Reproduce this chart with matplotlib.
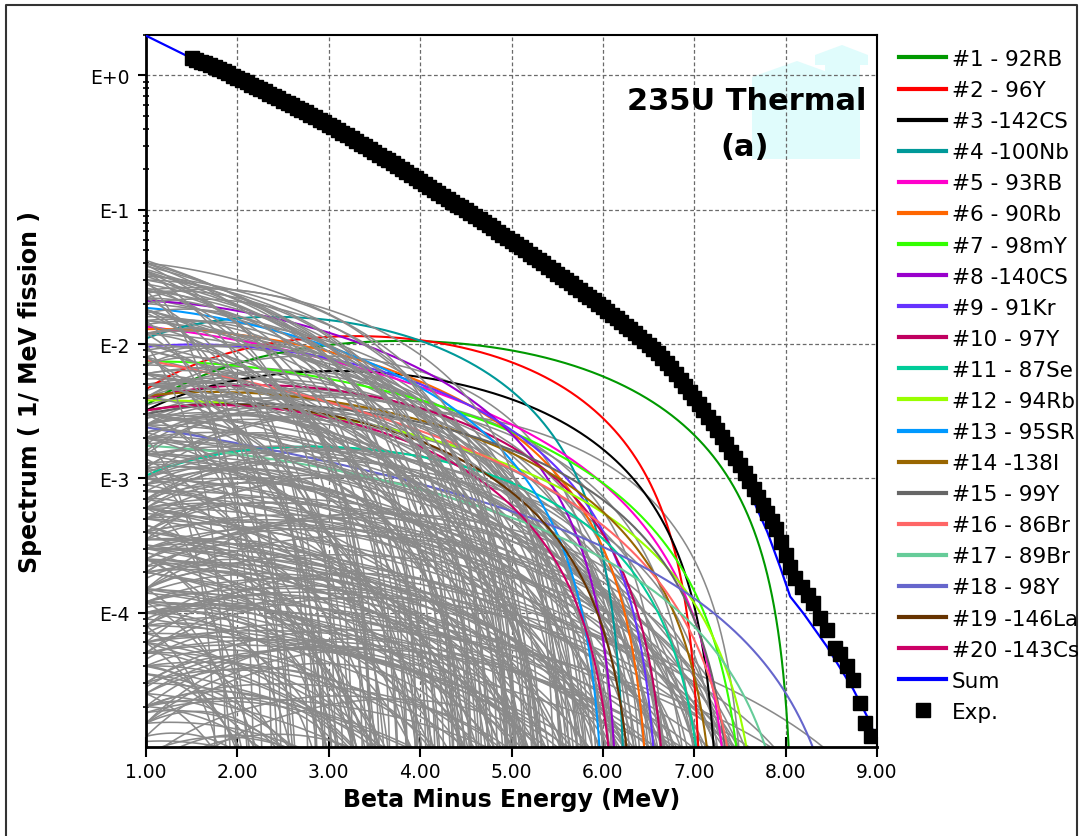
import numpy as np
import matplotlib

matplotlib.use("Agg")
import matplotlib.pyplot as plt
from matplotlib.lines import Line2D
from matplotlib.patches import Polygon
from matplotlib.ticker import LogLocator, NullFormatter, FixedLocator, FixedFormatter

# -------------------------------------------------------------
# Top 20 contributors: endpoint (MeV), level at 1 MeV, shape exp
# -------------------------------------------------------------
nuclide_labels = [
    "#1 - 92RB", "#2 - 96Y", "#3 -142CS", "#4 -100Nb", "#5 - 93RB",
    "#6 - 90Rb", "#7 - 98mY", "#8 -140CS", "#9 - 91Kr", "#10 - 97Y",
    "#11 - 87Se", "#12 - 94Rb", "#13 - 95SR", "#14 -138I", "#15 - 99Y",
    "#16 - 86Br", "#17 - 89Br", "#18 - 98Y", "#19 -146La", "#20 -143Cs",
]
nuclide_colors = [
    "#009900", "#ff0000", "#000000", "#009999", "#ff00cc",
    "#ff6600", "#33ff00", "#9900cc", "#6633ff", "#c00060",
    "#00cc99", "#99ff00", "#0099ff", "#996600", "#666666",
    "#ff6666", "#66cc99", "#6666cc", "#663300", "#cc0066",
]
nuclide_e0 = [8.10, 7.10, 7.30, 6.27, 7.45, 6.55, 7.62, 6.20, 6.65, 6.75,
              7.20, 7.80, 6.05, 7.30, 7.50, 7.60, 8.20, 8.80, 6.40, 6.20]
nuclide_y1 = [3.5e-3, 4.6e-3, 3.2e-3, 1.1e-2, 1.35e-2, 1.29e-2, 7.4e-3, 2.1e-2, 9.5e-3, 3.9e-3,
              1.05e-3, 3.8e-3, 1.86e-2, 4.1e-3, 3.0e-3, 7.6e-3, 1.75e-3, 2.4e-3, 3.2e-3, 3.2e-3]
nuclide_k = [2.0, 2.0, 1.7, 1.5, 0.2, 0.6, 0.5, 0.5, 0.8, 1.2,
             1.5, 0.5, 0.4, 0.8, 1.0, 0.0, 0.3, 0.0, 1.0, 1.0]

# -----------------------------------------------
# All the other fission products (drawn in gray)
# -----------------------------------------------
other_e0 = [
    1.8, 2.0, 2.1, 2.2, 2.3, 2.4, 2.5, 2.6, 2.7, 2.8, 2.9, 3.0, 3.0, 3.1, 3.2, 1.9, 2.2, 2.5, 2.8, 3.2,
    3.3, 3.4, 3.4, 3.5, 3.5, 3.6, 3.6, 3.7, 3.7, 3.8, 3.8, 3.9, 3.9, 4.0, 4.0, 4.0, 4.1, 4.1,
    4.2, 4.2, 4.3, 4.3, 4.4, 4.4, 4.5, 4.5, 3.3, 3.6, 3.9, 4.1, 4.4, 3.5, 4.2, 3.8, 4.5,
    4.6, 4.6, 4.7, 4.7, 4.8, 4.8, 4.9, 4.9, 5.0, 5.0, 5.0, 5.1, 5.1, 5.2, 5.2, 5.2, 5.3, 5.3,
    5.4, 5.4, 5.5, 5.5, 5.5, 5.6, 5.6, 5.7, 5.7, 5.8, 5.8, 5.9, 5.9, 6.0, 6.0, 4.6, 4.8, 5.0,
    5.3, 5.6, 5.9, 4.7, 5.1, 5.4, 5.7, 6.0, 4.9, 5.2, 5.5, 5.8, 5.0, 5.3,
    6.1, 6.1, 6.2, 6.2, 6.3, 6.3, 6.4, 6.4, 6.5, 6.5, 6.6, 6.6, 6.7, 6.7, 6.8, 6.8, 6.9, 6.9,
    7.0, 7.0, 7.1, 7.1, 7.2, 7.2, 7.3, 7.3, 7.4, 7.4, 7.5, 7.5, 7.6, 7.6, 6.15, 6.35, 6.55, 6.75,
    6.95, 7.15, 7.35, 7.55, 6.25, 6.45, 6.65, 6.85, 7.05, 7.25, 7.45, 6.05, 6.6, 7.0,
    7.8, 7.9, 8.0, 8.1, 8.2, 8.3, 8.4, 8.5, 8.6, 8.7, 8.9, 7.7, 7.85, 8.05, 8.25, 10.0, 9.5, 9.8,
    4.8, 6.0, 5.2, 6.5, 4.2, 3.6, 5.7,
    3.4, 3.7, 3.9, 4.2, 4.4, 4.6, 4.8, 5.0, 5.2, 5.4, 3.1, 3.5, 4.0, 4.3, 4.7, 5.1, 5.6, 5.8, 6.0, 3.0,
    4.0, 4.3, 4.5, 4.7, 4.9, 5.1, 5.3, 5.5, 5.7, 5.9, 6.1, 6.3, 6.5, 6.7, 6.9, 7.1, 4.2, 4.6, 5.0, 5.4,
    5.8, 6.2, 6.6, 7.0, 4.8, 5.2, 5.6, 6.0, 6.4, 6.8,
    3.2, 3.5, 3.8, 4.1, 4.4, 4.7, 5.0, 5.3, 5.6, 5.9, 6.2, 6.5, 6.8, 7.1, 7.4, 3.3, 3.6, 3.9, 4.2, 4.5,
    4.8, 5.1, 5.4, 5.7, 6.0, 6.3, 6.6, 6.9, 7.2, 7.5, 2.6, 2.9, 3.1, 3.4, 3.7, 4.0, 4.3, 4.6, 4.9, 5.2,
    5.5, 5.8, 6.1, 6.4, 6.7, 7.0, 2.3, 2.7, 3.0, 3.3,
    2.3, 2.6, 2.9, 3.2, 3.5, 3.8, 2.4, 2.7, 3.0, 3.6, 2.0, 2.5,
    7.7, 7.9, 8.1, 8.3, 7.6, 8.0, 9.0, 9.2,
]
other_y1 = [
    2.0e-3, 6.0e-4, 8.0e-5, 1.5e-2, 2.5e-4, 4.0e-5, 3.0e-3, 1.2e-4, 7.0e-4, 2.0e-5,
    3.5e-2, 5.0e-5, 1.0e-3, 6.0e-3, 3.0e-4, 1.0e-2, 1.2e-3, 2.5e-5, 2.2e-2, 1.5e-5,
    2.8e-2, 8.0e-4, 6.0e-5, 4.0e-3, 1.5e-4, 1.8e-2, 2.0e-5, 3.0e-4, 1.0e-3, 3.5e-2,
    8.0e-5, 6.0e-3, 2.5e-4, 1.5e-3, 3.0e-5, 2.2e-2, 5.0e-4, 1.2e-4, 9.0e-3, 4.0e-5,
    2.5e-3, 7.0e-4, 3.0e-2, 1.8e-4, 5.0e-3, 5.0e-5, 2.5e-3, 4.5e-4, 1.5e-5, 1.2e-2,
    1.2e-3, 1.2e-2, 3.5e-4, 2.0e-3, 2.0e-4,
    3.8e-2, 9.0e-4, 2.0e-3, 6.0e-5, 1.5e-2, 3.0e-4, 4.0e-3, 2.5e-5, 2.5e-2, 1.0e-4,
    6.0e-4, 8.0e-3, 1.5e-3, 4.0e-2, 4.0e-4, 3.0e-5, 3.0e-3, 1.2e-2, 2.0e-4, 1.0e-3,
    2.5e-2, 5.0e-5, 5.0e-3, 7.0e-4, 2.0e-2, 1.5e-4, 2.5e-3, 9.0e-3, 4.0e-5, 3.5e-4,
    1.5e-2, 1.5e-3, 8.0e-5, 6.0e-3, 1.5e-5, 2.5e-3, 8.0e-5, 1.2e-3, 4.0e-3, 2.2e-2,
    4.5e-4, 1.8e-2, 6.0e-3, 2.5e-4, 1.0e-2, 1.8e-3, 2.5e-4, 2.0e-5, 3.5e-2, 5.0e-4,
    1.2e-2, 3.0e-4, 2.0e-3, 6.0e-5, 8.0e-3, 5.0e-4, 1.5e-2, 1.2e-4, 3.0e-3, 2.5e-5,
    1.0e-3, 6.0e-3, 2.0e-4, 4.0e-5, 4.0e-3, 7.0e-4, 1.5e-3, 9.0e-5, 5.0e-3, 3.0e-4,
    2.5e-3, 1.5e-4, 8.0e-4, 2.5e-3, 4.0e-4, 5.0e-5, 1.5e-3, 2.5e-4, 2.5e-3, 7.0e-5,
    6.0e-4, 1.2e-3, 4.0e-3, 2.5e-4, 9.0e-3, 1.8e-3, 6.0e-4, 1.0e-4, 2.0e-3, 3.5e-4,
    1.0e-3, 5.0e-3, 3.5e-4, 2.5e-3, 1.0e-3, 6.0e-3, 4.0e-4, 6.0e-4, 1.5e-5, 2.0e-5,
    1.5e-3, 4.0e-4, 8.0e-4, 2.0e-4, 1.0e-3, 3.0e-4, 6.0e-4, 1.5e-4, 4.0e-4, 2.5e-4,
    1.5e-4, 3.0e-3, 6.0e-5, 2.0e-3, 5.0e-5, 3.2e-4, 2.0e-4, 1.2e-4,
    6.0e-6, 8.0e-6, 1.2e-5, 4.0e-6, 9.0e-6, 7.0e-6, 1.5e-5,
    3.2e-2, 2.6e-2, 4.0e-2, 3.3e-2, 2.4e-2, 3.0e-2, 4.2e-2, 2.0e-2, 2.8e-2, 3.6e-2,
    2.5e-2, 3.9e-2, 1.7e-2, 4.0e-2, 1.6e-2, 3.2e-2, 1.4e-2, 2.2e-2, 1.8e-2, 1.7e-2,
    4.5e-3, 8.0e-4, 1.0e-2, 3.5e-3, 1.3e-3, 5.5e-3, 2.0e-3, 9.0e-4, 4.0e-3, 1.2e-3,
    2.8e-3, 9.0e-4, 1.6e-3, 7.0e-4, 3.0e-3, 5.0e-4, 2.2e-3, 1.6e-3, 7.0e-3, 5.0e-3,
    6.5e-4, 5.0e-3, 2.2e-3, 1.3e-3, 9.0e-4, 2.8e-3, 3.5e-3, 1.0e-3, 7.0e-3, 1.1e-3,
    1.0e-4, 3.5e-5, 5.5e-4, 2.0e-5, 7.0e-5, 2.2e-4, 1.8e-5, 1.4e-4, 4.5e-5, 2.2e-4,
    3.0e-5, 1.2e-4, 4.0e-4, 3.0e-5, 1.0e-4, 4.0e-4, 1.2e-4, 3.5e-5, 6.0e-4, 1.1e-5,
    3.5e-4, 8.0e-5, 2.5e-5, 5.0e-4, 1.4e-4, 6.0e-5, 2.5e-4, 5.0e-5, 2.0e-4, 1.2e-4,
    3.5e-5, 2.5e-4, 1.2e-5, 7.0e-5, 1.8e-5, 2.8e-4, 4.0e-5, 1.0e-4, 6.0e-4, 6.0e-5,
    1.1e-4, 2.8e-5, 9.0e-5, 2.0e-5, 1.5e-4, 8.0e-5, 1.5e-4, 6.0e-5, 2.2e-3, 1.4e-3,
    8.0e-3, 1.2e-2, 5.0e-3, 1.0e-2, 7.0e-3, 1.4e-2, 2.5e-2, 3.0e-3, 8.0e-3, 3.0e-3,
    3.0e-2, 1.8e-2,
    6.0e-4, 1.5e-4, 5.0e-4, 1.2e-4, 2.0e-4, 3.0e-4, 3.0e-4, 1.0e-4,
]
other_k = [
    1, 2, 1, 0.5, 1.5, 2, 1, 0.5, 2, 2.5, 0, 1.5, 1, 0.5, 2, 0, 0.5, 1, 0.5, 2.5,
    0.3, 1.5, 2, 1, 2.5, 0.5, 1, 1, 2, 0, 1.5, 1.5, 0.5, 1, 2.5, 1, 2, 1,
    0.5, 2, 1.5, 0.5, 0.5, 2, 1, 1, 2, 0.3, 2.5, 1.5, 2.5, 1, 1, 0.5, 0.5,
    0.3, 2, 1, 0.5, 1, 1.5, 2, 2, 0.5, 1, 0.5, 1.5, 2.5, 0.5, 2, 1.5, 0.5, 1,
    1, 2, 1, 2.5, 0.3, 1.5, 0.5, 0.5, 2, 1, 1, 2.5, 0.3, 1, 2, 0.5, 1, 1.5,
    2, 0, 1.5, 1.5, 0, 0, 0.5, 0.5, 0.3, 1, 2, 2.5, 0, 1,
    0.5, 1.5, 1, 1, 0, 2, 0.3, 0.5, 1.5, 2, 0.5, 1, 1, 0, 0.3, 2, 1, 1.5,
    0, 0.5, 1.5, 2, 0.3, 1, 1, 2, 0.5, 1.5, 0, 0.5, 1, 2, 2, 0, 0, 2,
    0, 1, 0.3, 0.5, 0.5, 1, 1.5, 0.5, 1.5, 0, 2, 1, 2.5, 1,
    0, 1, 0.5, 0, 0, 0.5, 0, 0.3, 0, 0, 0, 0, 1, 0, 1, 0, 0, 0.3,
    2.5, 2.5, 3, 3, 2, 3, 3,
    0.5, 0.8, 0.2, 0.6, 1.2, 0.8, 0, 1.2, 0.3, 0, 1, 0, 1.5, 0.3, 0.8, 0.6, 1, 0.2, 0, 0.5,
    1.8, 2.2, 0.8, 1.5, 1, 0.8, 2, 1.5, 1.2, 0.8, 1.5, 1, 0.3, 1.8, 0.5, 1.2, 0.3, 2.5, 1.8, 0.5,
    2.2, 0.8, 1.2, 0.3, 0.3, 1.2, 2, 2.5, 0.5, 1.5,
    1.5, 1, 0.8, 2, 0.3, 2, 1.5, 0.5, 2, 1, 0.5, 1.5, 0.3, 2, 0.8, 0.3, 2, 0.5, 2.5, 1,
    1, 2.5, 0.5, 0.3, 1.5, 2.5, 0.5, 1, 2, 0, 1.5, 0.5, 2, 2.5, 1.5, 0.5, 1, 1.5, 2, 0,
    1, 2, 0.3, 1.5, 2.5, 0.5, 1, 0, 2, 0,
    1, 0.5, 1.5, 0.8, 2, 0.5, 0, 0.8, 0.3, 1, 0.5, 1,
    0.5, 1.5, 0.3, 1, 2, 0, 0.3, 0,
]

# ------------------------------
# Summed spectrum (blue line)
# ------------------------------
sum_energy = [1.00, 1.25, 1.50, 2.00, 2.50, 3.00, 3.50, 4.00, 4.50, 5.00, 5.50, 6.00,
              6.50, 7.00, 7.30, 7.58, 7.80, 7.94, 8.05, 8.20, 8.45, 8.74, 8.89, 9.00]
sum_decades = [0.296, 0.212, 0.128, -0.025, -0.195, -0.375, -0.578, -0.793, -1.013,
               -1.240, -1.483, -1.735, -2.020, -2.420, -2.720, -3.060, -3.400, -3.660,
               -3.880, -4.010, -4.250, -4.570, -4.770, -4.950]

# ------------------------------
# Measured spectrum (squares)
# ------------------------------
exp_energy = [
    1.50, 1.55, 1.60, 1.65, 1.70, 1.75, 1.80, 1.85, 1.90, 1.95,
    2.00, 2.05, 2.10, 2.15, 2.20, 2.25, 2.30, 2.35, 2.40, 2.45,
    2.50, 2.55, 2.60, 2.65, 2.70, 2.75, 2.80, 2.85, 2.90, 2.95,
    3.00, 3.05, 3.10, 3.15, 3.20, 3.25, 3.30, 3.35, 3.40, 3.45,
    3.50, 3.55, 3.60, 3.65, 3.70, 3.75, 3.80, 3.85, 3.90, 3.95,
    4.00, 4.05, 4.10, 4.15, 4.20, 4.25, 4.30, 4.35, 4.40, 4.45,
    4.50, 4.55, 4.60, 4.65, 4.70, 4.75, 4.80, 4.85, 4.90, 4.95,
    5.00, 5.05, 5.10, 5.15, 5.20, 5.25, 5.30, 5.35, 5.40, 5.45,
    5.50, 5.55, 5.60, 5.65, 5.70, 5.75, 5.80, 5.85, 5.90, 5.95,
    6.00, 6.05, 6.10, 6.15, 6.20, 6.25, 6.30, 6.35, 6.40, 6.45,
    6.50, 6.55, 6.60, 6.65, 6.70, 6.75, 6.80, 6.85, 6.90, 6.95,
    7.00, 7.05, 7.10, 7.15, 7.20, 7.25, 7.30, 7.35, 7.40, 7.45,
    7.50, 7.55, 7.60, 7.65, 7.70, 7.75, 7.80, 7.85, 7.90, 7.95,
    8.00, 8.05, 8.10, 8.18, 8.24, 8.30, 8.38, 8.45, 8.54, 8.60,
    8.67, 8.74, 8.81, 8.87, 8.93,
]
exp_decades = [
    0.132, 0.118, 0.103, 0.089, 0.074, 0.060, 0.045, 0.030, 0.015, -0.001,
    -0.017, -0.034, -0.051, -0.068, -0.085, -0.102, -0.119, -0.136, -0.153, -0.170,
    -0.187, -0.205, -0.222, -0.240, -0.257, -0.275, -0.293, -0.312, -0.330, -0.349,
    -0.367, -0.387, -0.407, -0.427, -0.447, -0.468, -0.488, -0.509, -0.529, -0.550,
    -0.570, -0.591, -0.612, -0.633, -0.654, -0.675, -0.697, -0.719, -0.741, -0.763,
    -0.785, -0.807, -0.829, -0.851, -0.873, -0.895, -0.917, -0.939, -0.961, -0.983,
    -1.005, -1.027, -1.049, -1.071, -1.093, -1.116, -1.139, -1.162, -1.185, -1.208,
    -1.231, -1.255, -1.279, -1.303, -1.327, -1.351, -1.375, -1.400, -1.425, -1.450,
    -1.475, -1.500, -1.524, -1.549, -1.574, -1.599, -1.624, -1.649, -1.674, -1.700,
    -1.725, -1.752, -1.780, -1.807, -1.835, -1.862, -1.890, -1.920, -1.950, -1.980,
    -2.010, -2.040, -2.070, -2.105, -2.140, -2.180, -2.220, -2.265, -2.310, -2.355,
    -2.400, -2.445, -2.490, -2.540, -2.590, -2.640, -2.690, -2.745, -2.800, -2.850,
    -2.900, -2.960, -3.020, -3.080, -3.140, -3.200, -3.260, -3.320, -3.380, -3.470,
    -3.570, -3.660, -3.740, -3.810, -3.870, -3.930, -4.040, -4.130, -4.260, -4.310,
    -4.400, -4.500, -4.670, -4.820, -4.920,
]

decade_ticks = [1e-4, 1e-3, 1e-2, 1e-1, 1.0]
decade_labels = ["E-4", "E-3", "E-2", "E-1", "E+0"]
energy_ticks = [1, 2, 3, 4, 5, 6, 7, 8, 9]

W, H = 1079, 837


def beta_shape(energy, e0, y1, k):
    # allowed-shape like branch: (E0-E)^2 * (E+0.5)^k, scaled to y1 at 1 MeV
    y = y1 * ((e0 - energy) / (e0 - 1.0)) ** 2 * ((energy + 0.5) / 1.5) ** k
    return np.where(energy < e0, y, np.nan)


def px(x, y):
    return (x / W, 1 - y / H)


def main():
    plt.rcParams["font.family"] = ["DejaVu Sans"]
    fig = plt.figure(figsize=(W / 100, H / 100), dpi=100)
    ax = fig.add_axes([146 / W, 1 - 748 / H, (877 - 146) / W, (748 - 36) / H])
    ax.set_facecolor("none")

    energy = np.linspace(1.0, 9.0, 3201)

    # ------------------------
    # Gray branches + nuclides
    # ------------------------
    for e0, y1, k in zip(other_e0, other_y1, other_k):
        z = 2.5 if e0 < 5.6 else 1.8
        ax.plot(energy, beta_shape(energy, e0, y1, k), color="#8a8a8a", lw=1.15, zorder=z)

    handles = []
    for lab, col, e0, y1, k in zip(nuclide_labels, nuclide_colors, nuclide_e0, nuclide_y1, nuclide_k):
        (h,) = ax.plot(energy, beta_shape(energy, e0, y1, k), color=col, lw=1.5, zorder=2, label=lab)
        handles.append(h)

    (h_sum,) = ax.plot(sum_energy, 10 ** np.array(sum_decades), color="#0000ff", lw=1.6,
                       zorder=3, label="Sum")
    (h_exp,) = ax.plot(exp_energy, 10 ** np.array(exp_decades), ls="none", marker="s",
                       ms=10.5, color="black", mec="black", zorder=4, label="Exp.")
    handles += [h_sum, h_exp]

    # ----
    # Axes
    # ----
    ax.set_yscale("log")
    ax.set_xlim(1.0, 9.0)
    ax.set_ylim(1e-5, 2.0)
    ax.yaxis.set_major_locator(FixedLocator(decade_ticks))
    ax.yaxis.set_major_formatter(FixedFormatter(decade_labels))
    ax.yaxis.set_minor_locator(LogLocator(base=10, subs=np.arange(2, 10)))
    ax.yaxis.set_minor_formatter(NullFormatter())
    ax.set_xticks(energy_ticks)
    ax.set_xticklabels([f"{v:.2f}" for v in energy_ticks])

    ax.tick_params(axis="x", which="major", direction="inout", length=14, width=1.5,
                   labelsize=13.5, pad=4)
    ax.tick_params(axis="y", which="major", direction="out", length=6, width=1.5,
                   labelsize=13.5, pad=6)
    ax.tick_params(axis="y", which="minor", direction="inout", length=4, width=1.2)

    for side in ["left", "bottom"]:
        ax.spines[side].set_linewidth(2.0)
    for side in ["top", "right"]:
        ax.spines[side].set_linewidth(1.5)

    ax.set_axisbelow(True)
    ax.grid(True, which="major", color="#6a6a6a", linestyle=(0, (3, 2)), linewidth=0.9)

    ax.set_xlabel("Beta Minus Energy (MeV)", fontsize=17, fontweight="bold")
    ax.set_ylabel("Spectrum ( 1/ MeV fission )", fontsize=17, fontweight="bold")
    ax.xaxis.set_label_coords(0.5, -0.056)
    ax.yaxis.set_label_coords(-0.142, 0.5)

    # ---------------------------
    # Watermark + title + border
    # ---------------------------
    house_left = [(752, 160), (752, 78), (797, 62), (830, 74), (830, 160)]
    house_right = [(825, 160), (825, 66), (815, 66), (815, 56), (842, 46), (868, 56),
                   (868, 66), (860, 66), (860, 160)]
    for shape in [house_left, house_right]:
        ax.add_patch(Polygon([px(x, y) for x, y in shape], closed=True, transform=fig.transFigure,
                             facecolor="#e0fcfc", edgecolor="none", zorder=0.2, clip_on=False))

    fig.text(747 / W, 1 - 102 / H, "235U Thermal", fontsize=22, fontweight="bold",
             ha="center", va="center")
    fig.text(745 / W, 1 - 148 / H, "(a)", fontsize=22, fontweight="bold",
             ha="center", va="center")

    bx = [5.5 / W, 5.5 / W, 1076.5 / W, 1076.5 / W]
    by = [0.0, 1 - 5.5 / H, 1 - 5.5 / H, 0.0]
    fig.add_artist(Line2D(bx, by, transform=fig.transFigure, color="#333333", lw=1.5))

    # ------
    # Legend
    # ------
    leg = fig.legend(handles=handles, loc="upper left", bbox_to_anchor=(899 / W, 1 - 50 / H),
                     frameon=False, fontsize=15.5, handlelength=2.2, handletextpad=0.25,
                     labelspacing=0.515, borderpad=0, borderaxespad=0, numpoints=1)
    for line in leg.get_lines()[:-1]:
        line.set_linewidth(3.0)

    fig.savefig("out.png", dpi=100)


if __name__ == "__main__":
    main()
